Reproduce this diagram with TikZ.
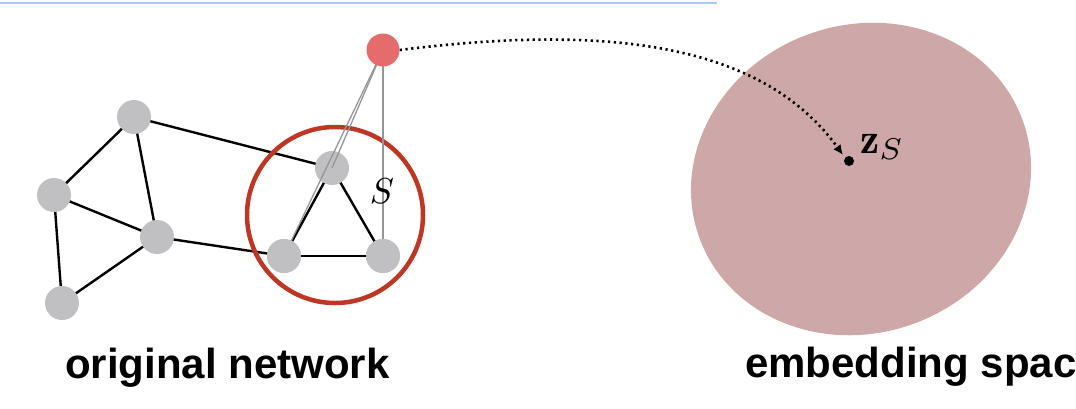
\documentclass[tikz,border=0pt]{standalone}
\usepackage{fontspec}
\setsansfont{Liberation Sans}
\usepackage{graphicx}
\usetikzlibrary{arrows.meta}
\definecolor{nodegray}{RGB}{192,192,194}
\definecolor{nodered}{RGB}{228,108,108}
\definecolor{ringred}{RGB}{188,56,36}
\definecolor{embfill}{RGB}{206,168,168}
\definecolor{topblue}{RGB}{170,202,245}
\definecolor{thingray}{RGB}{150,150,150}
\tikzset{
  gnode/.style={circle,fill=nodegray,minimum size=34pt,inner sep=0pt},
  rnode/.style={circle,fill=nodered,minimum size=33pt,inner sep=0pt},
  edge/.style={black,line width=2.4pt},
  thinedge/.style={thingray,line width=1.3pt},
  caption/.style={font=\fontsize{42}{50}\selectfont\sffamily\bfseries,inner sep=0pt},
}
\begin{document}
\begin{tikzpicture}[x=1pt,y=-1pt]
\useasboundingbox (0,0) rectangle (1076,408);
\draw[topblue,line width=2pt] (0,2.5) -- (717,2.5);
% embedding space
\fill[embfill,rotate around={20:(861,179)}] (861,179) ellipse [x radius=172,y radius=154];
% edges
\coordinate (pa) at (134,117);
\coordinate (pb) at (54,195);
\coordinate (pc) at (157,237);
\coordinate (pd) at (62,303);
\coordinate (pe) at (332,168);
\coordinate (pf) at (284,256);
\coordinate (pg) at (383,256);
\draw[edge] (pa) -- (pb);
\draw[edge] (pa) -- (pc);
\draw[edge] (pb) -- (pc);
\draw[edge] (pb) -- (pd);
\draw[edge] (pd) -- (pc);
\draw[edge] (pa) -- (pe);
\draw[edge] (pc) -- (pf);
\draw[edge] (pe) -- (pf);
\draw[edge] (pe) -- (pg);
\draw[edge] (pf) -- (pg);
% ring
\draw[ringred,line width=4.5pt] (335,215) circle [radius=88];
% nodes
\node[gnode] (a) at (pa) {};
\node[gnode] (b) at (pb) {};
\node[gnode] (c) at (pc) {};
\node[gnode] (d) at (pd) {};
\node[gnode] (e) at (pe) {};
\node[gnode] (f) at (pf) {};
\node[gnode] (g) at (pg) {};
\coordinate (pr) at (383,50);
% thin links from red node
\draw[thinedge] (pr) -- (pe);
\draw[thinedge] (pr) -- (pf);
\draw[thinedge] (pr) -- (pg);
\node[gnode] at (pf) {};
\node[gnode] at (pg) {};
\node[rnode] (r) at (pr) {};
\node[inner sep=0pt] (slab) at (382,191) {\scalebox{3.6}{$S$}};
% embedding point
\fill (849,161) circle [radius=5];
\coordinate (tip) at (843,155);
\node[inner sep=0pt,anchor=base west] (zlab) at (860,153) {\scalebox{4.3}{$\mathbf{z}_S$}};
\draw[line width=2.6pt,dash pattern=on 2.2pt off 3.6pt,-{Latex[length=10pt,width=9pt]}]
  (r.east) .. controls (600,25) and (760,40) .. (tip);
% captions
\node[caption,anchor=base west] (cap1) at (65,378) {original network};
\node[caption,anchor=base west] (cap2) at (745,377) {embedding spac};
\end{tikzpicture}
\end{document}
